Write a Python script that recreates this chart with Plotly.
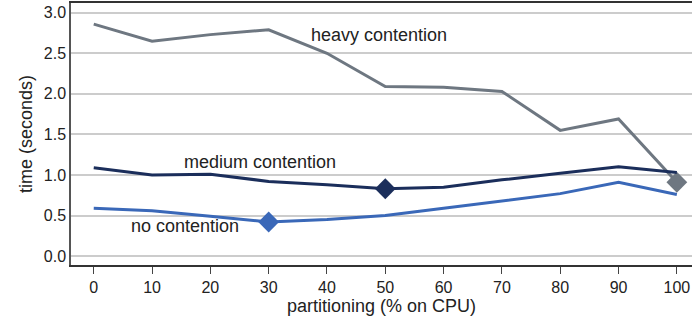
import plotly.graph_objects as go

partitioning = [0, 10, 20, 30, 40, 50, 60, 70, 80, 90, 100]
heavy = [2.86, 2.65, 2.73, 2.79, 2.50, 2.09, 2.08, 2.03, 1.55, 1.69, 0.91]
medium = [1.09, 1.00, 1.01, 0.92, 0.88, 0.83, 0.85, 0.94, 1.02, 1.10, 1.03]
none_ = [0.59, 0.56, 0.49, 0.42, 0.45, 0.50, 0.59, 0.68, 0.77, 0.91, 0.76]
y_ticks = [0.0, 0.5, 1.0, 1.5, 2.0, 2.5, 3.0]

series = [
    ("heavy contention", heavy, "#6e7781", 100, (49, 2.73)),
    ("medium contention", medium, "#1b2e5b", 50, (28.5, 1.16)),
    ("no contention", none_, "#3a68b8", 30, (15.7, 0.37)),
]

fig = go.Figure()
for name, vals, color, mk, (lx, ly) in series:
    fig.add_trace(go.Scatter(x=partitioning, y=vals, mode="lines",
                             line=dict(color=color, width=3), name=name,
                             showlegend=False))
    i = partitioning.index(mk)
    fig.add_trace(go.Scatter(x=[partitioning[i]], y=[vals[i]], mode="markers",
                             marker=dict(symbol="diamond", size=16, color=color),
                             showlegend=False))
    fig.add_annotation(x=lx, y=ly, text=name, showarrow=False,
                       font=dict(size=18, color="#222"), xanchor="center")

fig.update_layout(
    width=692, height=324,
    margin=dict(l=71, r=0, t=3, b=59),
    plot_bgcolor="white", paper_bgcolor="white",
    font=dict(family="Liberation Sans, Arial", size=16, color="#222"),
    xaxis=dict(range=[-3.9, 102.6], tickvals=partitioning, showgrid=False,
               zeroline=False, showline=True, linecolor="#333", linewidth=1.5,
               mirror=True, ticks="outside", ticklen=7, tickcolor="#444",
               automargin=False,
               title=dict(text="partitioning (% on CPU)", font=dict(size=18), standoff=4)),
    yaxis=dict(range=[-0.11, 3.12], tickvals=y_ticks,
               tickformat=".1f", showgrid=True, gridcolor="#cccccc", gridwidth=1.5,
               zeroline=False, showline=True, linecolor="#555", linewidth=1.5,
               ticks="", automargin=False,
               title=dict(text="time (seconds)", font=dict(size=18), standoff=6)),
)

fig.write_html("out.html", config={"displayModeBar": False},
               post_script="document.body.style.margin='0';document.body.style.overflow='hidden';")
